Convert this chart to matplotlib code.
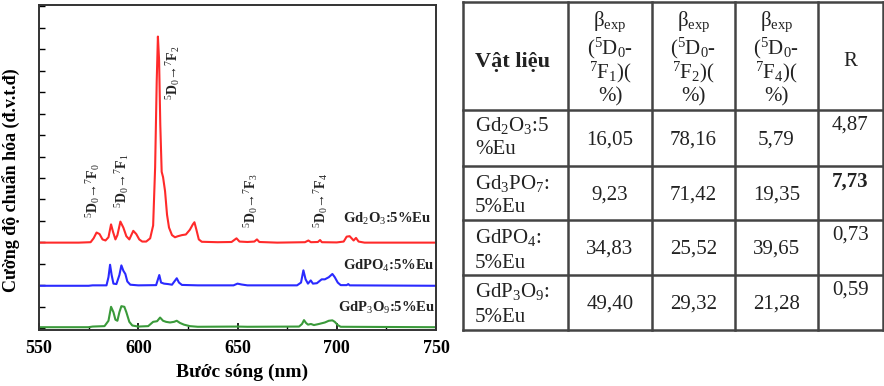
import matplotlib
matplotlib.use("Agg")
import matplotlib.pyplot as plt
from matplotlib.ticker import MultipleLocator

plt.rcParams["font.family"] = ["Liberation Serif", "DejaVu Serif"]
plt.rcParams["mathtext.fontset"] = "custom"
plt.rcParams["mathtext.rm"] = "Liberation Serif"
plt.rcParams["mathtext.it"] = "Liberation Serif:italic"
plt.rcParams["mathtext.bf"] = "Liberation Serif:bold"

# --- spectra (wavelength nm, intensity above each baseline, arbitrary units) ---
red_nm = [550, 570, 576, 577.5, 579, 580.5, 582, 583.5, 585, 586.3, 587.3, 588.5, 589.5,
          591, 592.5, 594, 595.5, 597.5, 599, 600.5, 602, 604, 606, 607.5, 608.5, 609.3,
          609.9, 610.5, 611.1, 611.8, 612.5, 613.5, 614.5, 615.5, 617, 618.5, 620, 622, 624,
          626, 627.5, 628.3, 629.3, 630.5, 632, 640, 647, 649.5, 651, 655, 658.5, 659.8, 661,
          670, 684, 685.7, 687, 690.5, 691.6, 692.5, 700, 703.5, 705, 706.5, 707.5, 708.5,
          709.7, 711, 714, 750]
red_int = [0, 0, 0.02, 0.2, 0.47, 0.4, 0.15, 0.1, 0.25, 0.85, 0.5, 0.15, 0.35,
           0.98, 0.7, 0.3, 0.15, 0.55, 0.4, 0.15, 0.05, 0.05, 0.2, 0.8, 3.5, 7.5,
           9.6, 8.5, 5.5, 3.3, 3.05, 2.4, 1.3, 0.7, 0.35, 0.25, 0.3, 0.35, 0.38,
           0.6, 0.85, 0.95, 0.6, 0.15, 0.04, 0.02, 0.03, 0.2, 0.05, 0.03, 0.05, 0.15, 0.03,
           0, 0.02, 0.1, 0.02, 0.03, 0.12, 0.02, 0.01, 0.05, 0.28, 0.3, 0.2, 0.1,
           0.22, 0.05, 0, 0]

blue_nm = [550, 575, 577, 584, 585, 585.8, 586.6, 587.5, 589, 590.5, 591.5, 592.5, 593.5,
           594.5, 596, 600, 609, 610.6, 611.5, 613, 615, 617, 619.4, 620.5, 622, 630, 648,
           650, 652, 655, 680, 682, 683.2, 684.3, 685.5, 686.9, 688, 690, 692.4, 694, 696,
           697.8, 699, 700.5, 702, 705, 705.8, 706.5, 750]
blue_int = [0, 0, 0.02, 0.02, 0.4, 0.98, 0.5, 0.1, 0.08, 0.5, 0.95, 0.7, 0.55,
            0.2, 0.05, 0.02, 0.03, 0.5, 0.15, 0.1, 0.08, 0.05, 0.35, 0.15, 0.04, 0.02, 0.02,
            0.1, 0.06, 0.02, 0.02, 0.15, 0.72, 0.3, 0.1, 0.25, 0.1, 0.12, 0.3, 0.3, 0.4,
            0.55, 0.4, 0.15, 0.03, 0.03, 0.08, 0.02, 0]

green_nm = [550, 575, 577, 583, 585, 586.3, 587.5, 588.5, 589.5, 590.5, 591.5, 593, 594,
            595.5, 597, 600, 605, 607.5, 609.5, 611, 612.5, 614, 616, 618, 619.4, 621, 623,
            626, 630, 650, 655, 681, 682.5, 683.5, 684.5, 685.5, 687, 688.5, 691, 694, 696,
            697.8, 699, 700.5, 702, 750]
green_int = [0, 0, 0.03, 0.05, 0.3, 0.95, 0.7, 0.35, 0.3, 0.7, 0.98, 0.95, 0.7,
             0.25, 0.08, 0.03, 0.05, 0.25, 0.28, 0.45, 0.3, 0.25, 0.22, 0.25, 0.3, 0.2, 0.12,
             0.05, 0.02, 0.03, 0.02, 0.03, 0.15, 0.33, 0.2, 0.12, 0.15, 0.1, 0.15, 0.22, 0.3,
             0.32, 0.25, 0.1, 0.02, 0]

offsets = [3.99, 1.98, 0.05]
series_labels = [r"Gd$_2$O$_3$:5%Eu", r"GdPO$_4$:5%Eu", r"GdP$_3$O$_9$:5%Eu"]
colors = ["#ff2a2a", "#2a2aff", "#3a9a3a"]

transitions = ["$^5$D$_0$→$^7$F$_0$", "$^5$D$_0$→$^7$F$_1$", "$^5$D$_0$→$^7$F$_2$",
               "$^5$D$_0$→$^7$F$_3$", "$^5$D$_0$→$^7$F$_4$"]
trans_nm = [577.2, 591.8, 617.5, 656.8, 692.1]
trans_y = [5.14, 5.6, 10.63, 4.67, 4.67]

# --- table ---
col_header = ["Vật liệu", "(F1)", "(F2)", "(F4)", "R"]
materials = [(r"Gd$_2$O$_3$:5", "%Eu"), (r"Gd$_3$PO$_7$:", "5%Eu"),
             (r"GdPO$_4$:", "5%Eu"), (r"GdP$_3$O$_9$:", "5%Eu")]
beta_f1 = ["16,05", "9,23", "34,83", "49,40"]
beta_f2 = ["78,16", "71,42", "25,52", "29,32"]
beta_f4 = ["5,79", "19,35", "39,65", "21,28"]
r_vals = ["4,87", "7,73", "0,73", "0,59"]

W, H = 884, 386
fig = plt.figure(figsize=(W / 100, H / 100), dpi=100)

ax = fig.add_axes([39 / W, 1 - 330 / H, (436 - 39) / W, (330 - 5) / H])
for xs, ys, off, c in zip([red_nm, blue_nm, green_nm], [red_int, blue_int, green_int], offsets, colors):
    ax.plot(xs, [v + off for v in ys], color=c, lw=1.5)

ax.set_xlim(550, 750)
ax.set_ylim(-0.08, 15.06)
ax.xaxis.set_major_locator(MultipleLocator(50))
ax.xaxis.set_minor_locator(MultipleLocator(25))
ax.yaxis.set_major_locator(MultipleLocator(1))
ax.tick_params(axis="x", which="major", direction="in", length=5, width=1.2, pad=7, labelsize=13)
ax.tick_params(axis="x", which="minor", direction="in", length=3, width=1.0)
ax.tick_params(axis="y", which="major", direction="in", length=4, width=1.0, labelleft=False)
for lab in ax.get_xticklabels():
    lab.set_fontweight("bold")
for s in ax.spines.values():
    s.set_linewidth(1.4)
    s.set_color("#333333")

ax.set_xlabel("Bước sóng (nm)", fontsize=14, fontweight="bold")
ax.xaxis.set_label_coords(0.511, -0.103)
ax.set_ylabel("Cường độ chuẩn hóa (đ.v.t.đ)", fontsize=13, fontweight="bold")
ax.yaxis.set_label_coords(-0.045, 0.46)

label_pos = [(703.1, 5.1), (703.0, 2.9), (700.6, 0.93)]
for (lx, ly), t in zip(label_pos, series_labels):
    ax.text(lx, ly, t, fontsize=10.5, fontweight="bold", va="center", ha="left", color="#222222")

for x, y, t in zip(trans_nm, trans_y, transitions):
    ax.text(x, y, t, rotation=90, fontsize=10, fontweight="bold", ha="center", va="bottom", color="#222222")

# table drawn in pixel coordinates
tb = fig.add_axes([0, 0, 1, 1])
tb.set_xlim(0, W)
tb.set_ylim(H, 0)
tb.axis("off")
tb.patch.set_alpha(0)

col_x = [463, 568, 652, 735, 818, 883]
row_y = [2, 110, 166, 220, 275, 330]
for x in col_x:
    tb.plot([x, x], [row_y[0], row_y[-1]], color="#444444", lw=1.8)
for y in row_y:
    tb.plot([col_x[0], col_x[-1]], [y, y], color="#444444", lw=1.8)

fs = 15
tc = "#222222"
tb.text(475, 62, col_header[0], fontsize=16, fontweight="bold", ha="left", va="center", color=tc)
for i, sub in enumerate(["1", "2", "4"]):
    cx = (col_x[i + 1] + col_x[i + 2]) / 2
    tb.text(cx, 22, r"β$_{\rm exp}$", fontsize=fs, ha="center", va="center", color=tc)
    tb.text(cx, 48, r"($^5$D$_0$-", fontsize=fs, ha="center", va="center", color=tc)
    tb.text(cx, 72, r"$^7$F$_%s$)(" % sub, fontsize=fs, ha="center", va="center", color=tc)
    tb.text(cx, 97, "%)", fontsize=fs, ha="center", va="center", color=tc)
tb.text((col_x[4] + col_x[5]) / 2, 62, col_header[4], fontsize=fs, ha="center", va="center", color=tc)

mat_y1 = [125, 183, 238, 292]
mat_y2 = [149, 208, 263, 318]
num_y = [140, 195, 249, 304]
r_y = [125, 182, 235, 290]
for i in range(4):
    tb.text(475, mat_y1[i], materials[i][0], fontsize=fs, ha="left", va="center", color=tc)
    tb.text(475, mat_y2[i], materials[i][1], fontsize=fs, ha="left", va="center", color=tc)
    for j, vals in enumerate([beta_f1, beta_f2, beta_f4]):
        cx = (col_x[j + 1] + col_x[j + 2]) / 2
        tb.text(cx, num_y[i], vals[i], fontsize=fs, ha="center", va="center", color=tc)
    tb.text((col_x[4] + col_x[5]) / 2, r_y[i], r_vals[i], fontsize=fs, ha="center", va="center",
            color=tc, fontweight="bold" if i == 1 else "normal")

fig.savefig("out.png", dpi=100)
